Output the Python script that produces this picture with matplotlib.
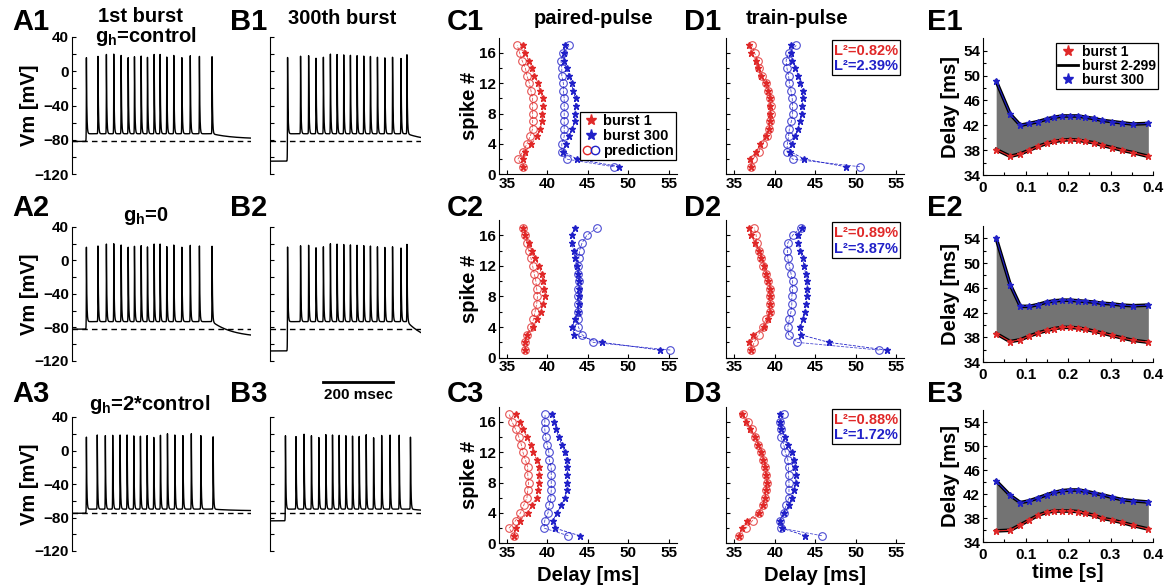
import numpy as np
import matplotlib
matplotlib.use('Agg')
import matplotlib.pyplot as plt
from matplotlib.lines import Line2D
from matplotlib.legend_handler import HandlerTuple
from matplotlib.patches import Rectangle

plt.rcParams['font.family'] = ['Liberation Sans', 'DejaVu Sans']
plt.rcParams['font.weight'] = 'bold'
plt.rcParams['mathtext.fontset'] = 'custom'
plt.rcParams['mathtext.rm'] = 'Liberation Sans:bold'
plt.rcParams['mathtext.bf'] = 'Liberation Sans:bold'

RED = '#e02828'
BLUE = '#2020c8'

# ---- voltage traces: spike times [s] and levels [mV]
a1_spikes = [0.031, 0.064, 0.088, 0.109, 0.130, 0.150, 0.168, 0.187, 0.205,
             0.224, 0.241, 0.260, 0.280, 0.303, 0.327, 0.353, 0.389]
a2_spikes = [0.031, 0.064, 0.088, 0.109, 0.130, 0.150, 0.168, 0.187, 0.205,
             0.224, 0.241, 0.260, 0.280, 0.303, 0.327, 0.353, 0.389]
a3_spikes = [0.031, 0.062, 0.085, 0.106, 0.127, 0.147, 0.166, 0.185, 0.204,
             0.223, 0.242, 0.262, 0.283, 0.306, 0.330, 0.357, 0.392]
b1_spikes = [0.040, 0.077, 0.100, 0.121, 0.142, 0.162, 0.181, 0.200, 0.219,
             0.238, 0.257, 0.276, 0.296, 0.317, 0.339, 0.363, 0.380]
b2_spikes = [0.040, 0.077, 0.100, 0.121, 0.142, 0.162, 0.181, 0.200, 0.219,
             0.238, 0.257, 0.276, 0.296, 0.317, 0.339, 0.363, 0.380]
b3_spikes = [0.034, 0.064, 0.087, 0.108, 0.129, 0.149, 0.168, 0.187, 0.206,
             0.225, 0.244, 0.264, 0.285, 0.308, 0.332, 0.358, 0.390]
# pre-stim, inter-spike trough, end level, spike peak, rest (dashed line)
a1_levels = [-82, -73, -79, 20, -82]
a2_levels = [-82, -73, -92, 20, -82]
a3_levels = [-75, -70, -72, 20, -75]
b1_levels = [-105, -73, -82, 20, -82]
b2_levels = [-108, -73, -100, 20, -82]
b3_levels = [-84, -70, -73, 20, -75]

# ---- spike delays [ms] for spike # 1..17 (burst 1, prediction 1, burst 300, prediction 300)
spike_no = list(range(1, 18))
c1_b1 = [37.0, 37.0, 37.3, 38.0, 38.8, 39.1, 39.4, 39.4, 39.5, 39.5, 39.1, 38.9, 38.4, 38.1, 37.7, 37.3, 37.0]
c1_p1 = [37.0, 36.4, 37.0, 37.5, 37.9, 38.2, 38.2, 38.2, 38.2, 38.2, 38.0, 37.8, 37.5, 37.3, 36.9, 36.6, 36.3]
c1_b300 = [48.9, 43.7, 42.0, 42.3, 42.7, 43.1, 43.4, 43.4, 43.5, 43.5, 43.2, 43.0, 42.7, 42.4, 42.1, 42.1, 42.2]
c1_p300 = [48.2, 42.4, 41.8, 41.8, 42.1, 42.1, 42.1, 42.1, 42.1, 42.1, 42.0, 42.0, 41.8, 41.8, 41.7, 42.0, 42.7]

c2_b1 = [37.3, 37.2, 37.5, 38.3, 38.8, 39.2, 39.5, 39.7, 39.6, 39.5, 39.3, 39.0, 38.5, 38.1, 37.7, 37.3, 37.0]
c2_p1 = [37.3, 37.2, 37.5, 38.0, 38.3, 38.5, 38.7, 38.8, 38.7, 38.6, 38.4, 38.2, 38.0, 37.7, 37.5, 37.3, 37.0]
c2_b300 = [53.9, 46.8, 43.3, 43.1, 43.4, 43.8, 43.9, 43.9, 43.9, 43.9, 43.8, 43.7, 43.4, 43.3, 43.0, 43.0, 43.4]
c2_p300 = [55.2, 45.7, 44.3, 43.85, 43.85, 43.8, 43.8, 43.8, 43.8, 43.9, 43.8, 43.8, 43.9, 44.0, 44.3, 44.9, 46.2]

c3_b1 = [35.9, 36.1, 36.6, 37.6, 38.1, 38.7, 38.9, 39.0, 39.0, 39.0, 38.7, 38.3, 37.95, 37.5, 37.0, 36.6, 36.2]
c3_p1 = [35.9, 35.3, 36.1, 36.7, 37.1, 37.5, 37.6, 37.7, 37.6, 37.6, 37.3, 37.0, 36.8, 36.5, 36.1, 35.65, 35.3]
c3_b300 = [44.0, 40.95, 40.7, 41.2, 41.75, 42.2, 42.4, 42.5, 42.5, 42.5, 42.4, 42.2, 41.8, 41.4, 41.1, 40.9, 40.6]
c3_p300 = [42.6, 39.6, 39.7, 40.1, 40.25, 40.45, 40.5, 40.5, 40.5, 40.5, 40.25, 40.2, 40.0, 39.8, 39.7, 39.7, 39.75]

d1_b1 = [37.0, 36.9, 37.7, 38.2, 38.9, 39.3, 39.4, 39.45, 39.45, 39.4, 39.1, 38.9, 38.3, 37.9, 37.7, 37.1, 36.85]
d1_p1 = [37.0, 37.3, 38.0, 38.5, 39.0, 39.3, 39.4, 39.5, 39.5, 39.45, 39.15, 38.9, 38.4, 38.1, 37.9, 37.5, 37.2]
d1_b300 = [48.75, 43.65, 41.9, 42.1, 42.55, 42.85, 43.15, 43.3, 43.4, 43.45, 43.45, 43.1, 42.9, 42.55, 42.15, 42.05, 42.0]
d1_p300 = [50.5, 42.2, 41.5, 41.55, 41.7, 41.8, 42.05, 42.2, 42.2, 42.15, 42.0, 41.8, 41.7, 41.5, 41.4, 41.7, 42.65]

d2_b1 = [37.1, 36.85, 37.35, 38.7, 39.1, 39.35, 39.4, 39.4, 39.4, 39.2, 38.9, 38.7, 38.3, 38.0, 37.55, 37.1, 36.85]
d2_p1 = [37.1, 37.45, 38.0, 38.5, 38.9, 39.35, 39.4, 39.4, 39.4, 39.2, 38.9, 38.6, 38.3, 38.05, 37.75, 37.7, 37.45]
d2_b300 = [53.8, 46.7, 43.2, 43.1, 43.5, 43.7, 43.9, 43.95, 44.0, 44.0, 43.8, 43.6, 43.45, 43.1, 42.9, 42.9, 43.35]
d2_p300 = [52.9, 42.8, 41.7, 41.6, 41.8, 42.0, 42.1, 42.1, 42.2, 42.2, 42.0, 41.8, 41.6, 41.55, 41.6, 42.2, 43.2]

d3_b1 = [35.6, 35.9, 36.6, 38.0, 38.5, 38.8, 38.9, 39.0, 38.9, 38.8, 38.6, 38.25, 37.95, 37.55, 36.95, 36.5, 35.9]
d3_p1 = [35.6, 36.45, 37.25, 38.05, 38.5, 38.8, 38.9, 39.0, 38.9, 38.8, 38.6, 38.25, 37.95, 37.55, 37.15, 36.7, 36.1]
d3_b300 = [43.75, 40.85, 40.65, 41.15, 41.8, 42.1, 42.4, 42.6, 42.6, 42.5, 42.4, 42.1, 41.6, 41.3, 40.75, 40.6, 40.6]
d3_p300 = [45.8, 40.75, 40.65, 41.1, 41.4, 41.75, 41.75, 41.75, 41.7, 41.7, 41.6, 41.3, 41.1, 40.75, 40.75, 40.7, 41.15]

l2_values = [('0.82%', '2.39%'), ('0.89%', '3.87%'), ('0.88%', '1.72%')]

# ---- delay vs spike time (burst 1 and burst 300)
e_time = [0.031, 0.064, 0.088, 0.109, 0.130, 0.150, 0.168, 0.187, 0.205,
          0.224, 0.241, 0.260, 0.280, 0.303, 0.327, 0.353, 0.389]
e1_b1 = [38.1, 37.0, 37.4, 38.0, 38.6, 39.1, 39.4, 39.6, 39.7, 39.6, 39.4, 39.2, 38.8, 38.4, 38.0, 37.6, 37.0]
e1_b300 = [49.1, 43.8, 42.0, 42.3, 42.6, 43.0, 43.3, 43.5, 43.5, 43.5, 43.3, 43.1, 42.8, 42.6, 42.4, 42.2, 42.3]
e2_b1 = [38.6, 37.3, 37.6, 38.2, 38.7, 39.1, 39.4, 39.6, 39.6, 39.5, 39.3, 39.0, 38.7, 38.3, 37.9, 37.5, 37.2]
e2_b300 = [54.0, 46.5, 43.0, 43.0, 43.3, 43.7, 43.9, 44.0, 44.0, 43.9, 43.8, 43.7, 43.5, 43.4, 43.2, 43.1, 43.2]
e3_b1 = [35.9, 36.0, 36.9, 37.7, 38.5, 39.0, 39.2, 39.2, 39.2, 39.1, 38.8, 38.5, 38.0, 37.7, 37.3, 36.8, 36.2]
e3_b300 = [44.2, 41.8, 40.6, 40.9, 41.4, 41.9, 42.3, 42.6, 42.7, 42.7, 42.5, 42.2, 41.9, 41.5, 41.1, 40.9, 40.7]

W, H = 1173, 588
fig = plt.figure(figsize=(W / 100, H / 100), dpi=100)
LAB = 14.5


def box(l, t, r, b):
    return [l / W, 1 - b / H, (r - l) / W, (b - t) / H]


def style(ax):
    for s in ['top', 'right']:
        ax.spines[s].set_visible(False)
    ax.tick_params(direction='in', length=3, labelsize=11, width=0.8, pad=2)
    ax.tick_params(which='minor', direction='in', length=2, width=0.8)
    for lab in ax.get_xticklabels() + ax.get_yticklabels():
        lab.set_fontweight('bold')


def make_trace(t, spikes, lev):
    pre, trough, end, peak, rest = lev
    t1, tn = spikes[0], spikes[-1]
    base = np.where(t < t1, pre, trough)
    after = t > tn
    base = np.where(after, end + (trough - end) * np.exp(-(t - tn) / 0.06), base)
    v = base.copy()
    for ts in spikes:
        dt = t - ts
        k = np.where(dt >= 0, np.exp(-np.clip(dt, 0, None) / 0.0012),
                     np.exp(np.clip(dt, None, 0) / 0.0003))
        v += (peak - base) * k
    return v


rows_v = [(37, 174), (227, 361), (417, 551)]
traces = [(a1_spikes, a1_levels, b1_spikes, b1_levels),
          (a2_spikes, a2_levels, b2_spikes, b2_levels),
          (a3_spikes, a3_levels, b3_spikes, b3_levels)]
t = np.linspace(-0.01, 0.5, 6001)
for r, (top, bot) in enumerate(rows_v):
    sa, la, sb, lb = traces[r]
    axA = fig.add_axes(box(72, top, 251, bot))
    axA.plot(t, make_trace(t, sa, la), color='black', lw=1.0)
    axA.axhline(la[4], color='black', lw=1.0, ls=(0, (4, 3)))
    axA.set_xlim(-0.01, 0.5)
    axA.set_ylim(-120, 40)
    axA.set_yticks([-120, -80, -40, 0, 40])
    axA.set_yticks([-100, -60, -20, 20], minor=True)
    axA.spines['bottom'].set_visible(False)
    axA.set_xticks([])
    style(axA)
    axA.tick_params(which='minor', length=3)
    axA.set_ylabel('Vm [mV]', fontsize=LAB, fontweight='bold', labelpad=-3)

    tb = np.linspace(-0.01, 0.42, 5001)
    axB = fig.add_axes(box(270, top, 421, bot))
    axB.plot(tb, make_trace(tb, sb, lb), color='black', lw=1.0)
    axB.axhline(lb[4], color='black', lw=1.0, ls=(0, (4, 3)))
    axB.set_xlim(-0.01, 0.42)
    axB.set_ylim(-120, 40)
    axB.set_yticks([-120, -80, -40, 0, 40])
    axB.set_yticks([-100, -60, -20, 20], minor=True)
    axB.set_yticklabels([])
    axB.spines['bottom'].set_visible(False)
    axB.set_xticks([])
    style(axB)
    axB.tick_params(which='minor', length=3)
    if r == 2:
        axB.plot([0.141, 0.341], [82, 82], color='black', lw=2, clip_on=False)
        axB.text(0.241, 66, '200 msec', ha='center', va='center', fontsize=11,
                 fontweight='bold')

# ---- C / D panels
rows_c = [(37.8, 174.3), (220, 357.7), (406.5, 543.3)]
c_data = [(c1_b1, c1_p1, c1_b300, c1_p300), (c2_b1, c2_p1, c2_b300, c2_p300),
          (c3_b1, c3_p1, c3_b300, c3_p300)]
d_data = [(d1_b1, d1_p1, d1_b300, d1_p300), (d2_b1, d2_p1, d2_b300, d2_p300),
          (d3_b1, d3_p1, d3_b300, d3_p300)]


def delay_panel(ax, data):
    b1, p1, b300, p300 = data
    ax.plot(p1, spike_no, color=RED, lw=0.6, ls='--', marker='o', ms=5.5,
            mfc='none', mew=0.8, alpha=0.8)
    ax.plot(b1, spike_no, color=RED, lw=0.6, ls='--', marker='*', ms=4.5)
    ax.plot(p300, spike_no, color=BLUE, lw=0.6, ls='--', marker='o', ms=5.5,
            mfc='none', mew=0.8, alpha=0.8)
    ax.plot(b300, spike_no, color=BLUE, lw=0.6, ls='--', marker='*', ms=4.5)
    ax.set_xlim(34, 56)
    ax.set_ylim(0, 18)
    ax.set_xticks([35, 40, 45, 50, 55])
    ax.set_yticks([0, 4, 8, 12, 16])
    ax.set_yticks([2, 6, 10, 14], minor=True)
    style(ax)


for r, (top, bot) in enumerate(rows_c):
    axC = fig.add_axes(box(498.6, top, 676.8, bot))
    delay_panel(axC, c_data[r])
    axC.set_ylabel('spike #', fontsize=LAB, fontweight='bold', labelpad=0)
    axD = fig.add_axes(box(726.2, top, 904.4, bot))
    delay_panel(axD, d_data[r])
    axD.set_yticklabels([])
    if r == 2:
        axC.set_xlabel('Delay [ms]', fontsize=LAB, fontweight='bold', labelpad=4)
        axD.set_xlabel('Delay [ms]', fontsize=LAB, fontweight='bold', labelpad=4)
    if r == 0:
        hs = [Line2D([], [], color=RED, marker='*', ls='', ms=8),
              Line2D([], [], color=BLUE, marker='*', ls='', ms=8),
              (Line2D([], [], color=RED, marker='o', ls='', ms=6, mfc='none'),
               Line2D([], [], color=BLUE, marker='o', ls='', ms=6, mfc='none'))]
        leg = axC.legend(hs, ['burst 1', 'burst 300', 'prediction'],
                         handler_map={tuple: HandlerTuple(ndivide=None, pad=0)},
                         loc='upper left', bbox_to_anchor=(580 / W, 1 - 112 / H),
                         bbox_transform=fig.transFigure, fancybox=False,
                         edgecolor='black', framealpha=1, borderpad=0.15,
                         labelspacing=0.05, handlelength=1.2, handletextpad=0.2,
                         borderaxespad=0, prop={'weight': 'bold', 'size': 10.5})
        leg.get_frame().set_linewidth(0.9)
    # L2 box
    axD.add_patch(Rectangle((0.594, 0.727), 0.381, 0.257, transform=axD.transAxes,
                            fill=True, facecolor='white', edgecolor='black',
                            lw=0.9, clip_on=False, zorder=5))
    axD.text(0.785, 0.903, 'L\u00b2=' + l2_values[r][0], color=RED,
             transform=axD.transAxes, ha='center', va='center', fontsize=10.5,
             fontweight='bold', zorder=6)
    axD.text(0.785, 0.793, 'L\u00b2=' + l2_values[r][1], color=BLUE,
             transform=axD.transAxes, ha='center', va='center', fontsize=10.5,
             fontweight='bold', zorder=6)

# ---- E panels
rows_e = [(38.3, 175), (226, 362), (410, 542.3)]
e_data = [(e1_b1, e1_b300), (e2_b1, e2_b300), (e3_b1, e3_b300)]
for r, (top, bot) in enumerate(rows_e):
    axE = fig.add_axes(box(983, top, 1153, bot))
    b1, b300 = e_data[r]
    axE.fill_between(e_time, b1, b300, color='0.45', lw=0)
    axE.plot(e_time, b300, color='black', lw=2.6)
    axE.plot(e_time, b1, color='black', lw=2.6)
    axE.plot(e_time, b1, color=RED, lw=0.8, marker='*', ms=4.5)
    axE.plot(e_time, b300, color=BLUE, lw=0.8, marker='*', ms=4.5)
    axE.set_xlim(0, 0.4)
    axE.set_ylim(34, 56)
    axE.set_xticks([0, 0.1, 0.2, 0.3, 0.4])
    axE.set_xticklabels(['0', '0.1', '0.2', '0.3', '0.4'])
    axE.set_xticks([0.05, 0.15, 0.25, 0.35], minor=True)
    axE.set_yticks([34, 38, 42, 46, 50, 54])
    axE.set_yticks([36, 40, 44, 48, 52], minor=True)
    style(axE)
    axE.tick_params(axis='x', pad=4)
    axE.set_ylabel('Delay [ms]', fontsize=LAB, fontweight='bold', labelpad=2)
    if r == 2:
        axE.set_xlabel('time [s]', fontsize=LAB, fontweight='bold', labelpad=1)
    if r == 0:
        hs = [Line2D([], [], color=RED, marker='*', ls='', ms=8),
              Line2D([], [], color='black', lw=2),
              Line2D([], [], color=BLUE, marker='*', ls='', ms=8)]
        leg = axE.legend(hs, ['burst 1', 'burst 2-299', 'burst 300'],
                         loc='upper right', bbox_to_anchor=(1158 / W, 1 - 43 / H),
                         bbox_transform=fig.transFigure, fancybox=False,
                         edgecolor='black', framealpha=1, borderpad=0.15,
                         labelspacing=0.0, handlelength=1.4, handletextpad=0.3,
                         borderaxespad=0, prop={'weight': 'bold', 'size': 10})
        leg.get_frame().set_linewidth(0.9)

# ---- panel labels and titles
for r, y in enumerate([22, 208, 394]):
    for lab, x in zip('ABCDE', [31, 249, 465, 703, 945]):
        fig.text(x / W, 1 - y / H, f'{lab}{r + 1}', fontsize=21, fontweight='bold',
                 ha='center', va='center')
tkw = dict(fontsize=14.5, fontweight='bold', ha='center', va='center')
fig.text(140 / W, 1 - 17 / H, '1st burst', **tkw)
fig.text(146 / W, 1 - 37 / H, r'g$_{\rm h}$=control', **tkw)
fig.text(342 / W, 1 - 18 / H, '300th burst', **tkw)
fig.text(594 / W, 1 - 18 / H, 'paired-pulse', **tkw)
fig.text(797 / W, 1 - 18 / H, 'train-pulse', **tkw)
fig.text(146 / W, 1 - 216 / H, r'g$_{\rm h}$=0', **tkw)
fig.text(150 / W, 1 - 405 / H, r'g$_{\rm h}$=2*control', **tkw)

fig.savefig('out.png', dpi=100)
